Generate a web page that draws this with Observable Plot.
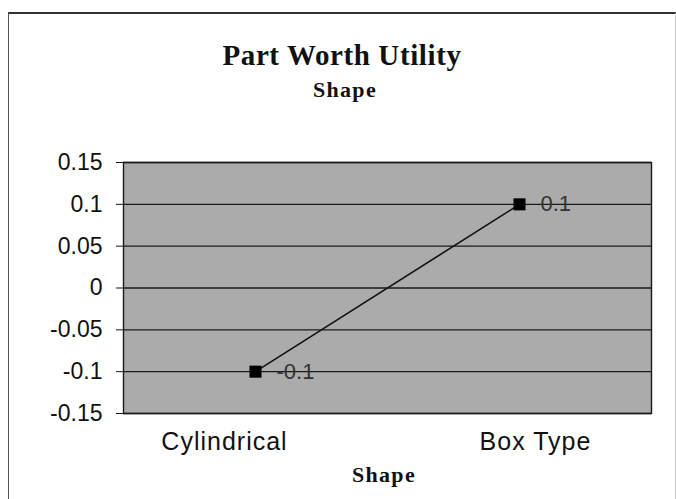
<!DOCTYPE html>
<html>
<head>
<meta charset="utf-8">
<script src="https://cdn.jsdelivr.net/npm/d3@7"></script>
<script src="https://cdn.jsdelivr.net/npm/@observablehq/plot@0.6"></script>
<style>
  body { margin: 0; background: #fff; overflow: hidden; }
  #frame { position: absolute; left: 8px; top: 12px; width: 666px; height: 520px;
           border-top: 2px solid #333; border-left: 1px solid #555; border-right: 1px solid #ccc; }
  #chart { position: absolute; left: 0; top: 0; }
</style>
</head>
<body>
<div id="frame"></div>
<div id="chart"></div>
<script>
const categories = ["Cylindrical", "Box Type"];
const values = [-0.1, 0.1];
const pointLabels = ["-0.1", "0.1"];
const yTicks = [-0.15, -0.1, -0.05, 0, 0.05, 0.1, 0.15];
const yTickLabels = ["-0.15", "-0.1", "-0.05", "0", "0.05", "0.1", "0.15"];
const titleText = "Part Worth Utility";
const subtitleText = "Shape";
const xTitleText = "Shape";

const data = categories.map((c, i) => ({shape: c, value: values[i], label: pointLabels[i]}));

const plot = Plot.plot({
  width: 676,
  height: 499,
  marginLeft: 123,
  marginRight: 25,
  marginTop: 162,
  marginBottom: 86,
  style: {fontFamily: "'Liberation Sans', Arial, sans-serif", color: "#111", background: "transparent", overflow: "visible"},
  x: {type: "point", domain: categories, padding: 0.5, label: null},
  y: {domain: [-0.15, 0.15], label: null},
  marks: [
    Plot.frame({fill: "#ababab"}),
    Plot.gridY(yTicks, {stroke: "#1a1a1a", strokeOpacity: 1, strokeWidth: 1.4}),
    Plot.frame({stroke: "#1a1a1a", strokeWidth: 1.4}),
    Plot.axisY(yTicks, {
      tickFormat: d => yTickLabels[yTicks.indexOf(d)],
      tickSize: 7, tickPadding: 14, fontSize: 23, stroke: "#1a1a1a", fill: "#111", label: null
    }),
    Plot.axisX([categories[0]], {tickSize: 0, tickPadding: 19, fontSize: 25, fill: "#111", label: null, dx: -31}),
    Plot.axisX([categories[1]], {tickSize: 0, tickPadding: 19, fontSize: 25, fill: "#111", label: null, dx: 16}),
    Plot.line(data, {x: "shape", y: "value", stroke: "#111", strokeWidth: 1.6}),
    Plot.dot(data, {x: "shape", y: "value", symbol: "square", r: 6.8, fill: "#000", stroke: "none"}),
    Plot.text(data, {x: "shape", y: "value", text: "label", dx: 21, textAnchor: "start", fontSize: 22, fill: "#333"})
  ]
});

const svg = d3.select(plot);
svg.selectAll('g[aria-label="x-axis tick label"] text').attr("letter-spacing", 1);
const serif = "'Liberation Serif', 'Times New Roman', serif";
svg.append("text").attr("x", 342).attr("y", 65).attr("text-anchor", "middle")
  .attr("font-family", serif).attr("font-weight", "bold").attr("font-size", 29).attr("letter-spacing", 0.6).attr("fill", "#111").text(titleText);
svg.append("text").attr("x", 345).attr("y", 97).attr("text-anchor", "middle")
  .attr("font-family", serif).attr("font-weight", "bold").attr("font-size", 22).attr("letter-spacing", 1.3).attr("fill", "#111").text(subtitleText);
svg.append("text").attr("x", 384).attr("y", 482).attr("text-anchor", "middle")
  .attr("font-family", serif).attr("font-weight", "bold").attr("font-size", 22).attr("letter-spacing", 1.3).attr("fill", "#111").text(xTitleText);

document.getElementById("chart").appendChild(plot);
</script>
</body>
</html>
